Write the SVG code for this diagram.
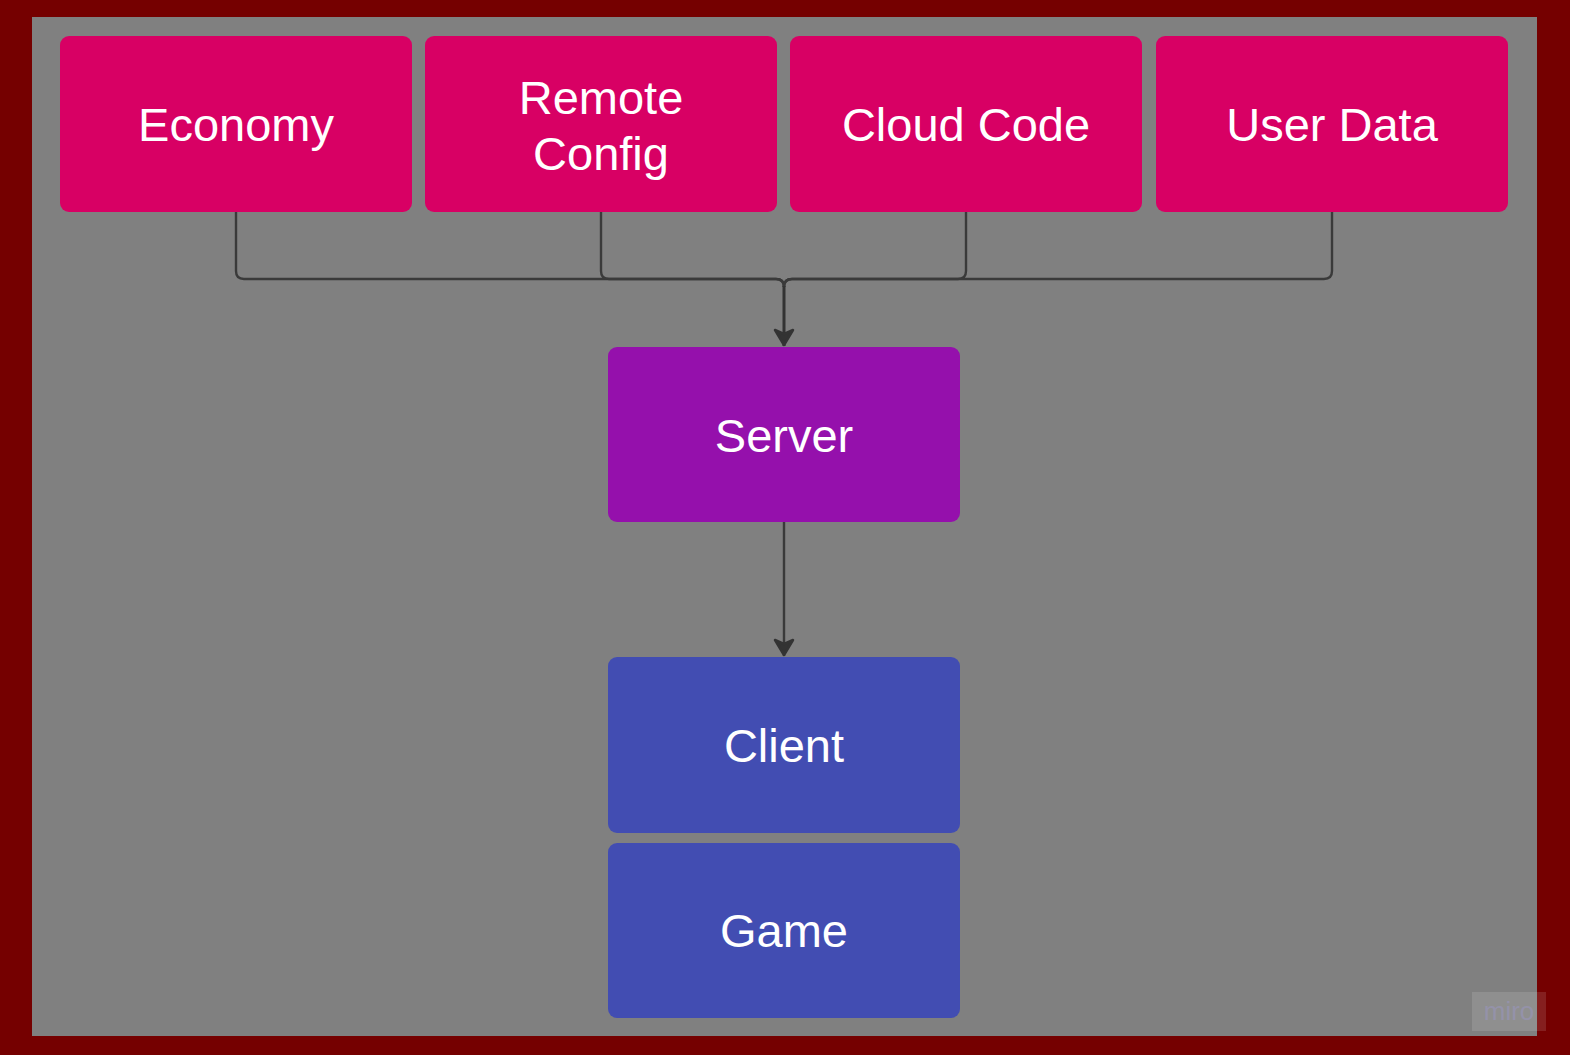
<svg xmlns="http://www.w3.org/2000/svg" width="1570" height="1055" viewBox="0 0 1570 1055">
  <style>
    .pink { fill: #D80064; }
    .purple { fill: #9510AC; }
    .blue { fill: #424DB2; }
    .lbl { font-family: "Liberation Sans", Arial, sans-serif; font-size: 47px; fill: #FFFFFF; text-anchor: middle; }
    .conn { fill: none; stroke: #3a3a3a; stroke-width: 2.4; }
    .trunk { fill: none; stroke: #333333; stroke-width: 3; }
  </style>
  <defs>
    <marker id="arrow" markerUnits="userSpaceOnUse" viewBox="-20 -12 22 24" refX="0" refY="0" markerWidth="22" markerHeight="24" orient="auto">
      <path d="M-1,0 L-16,-9 L-12,0 L-16,9 Z" fill="#333333" stroke="#333333" stroke-width="2.5" stroke-linejoin="round"/>
    </marker>
  </defs>
  <rect x="0" y="0" width="1570" height="1055" fill="#750000"/>
  <rect x="32" y="17" width="1505" height="1019" fill="#808080"/>

  <g id="connectors">
    <path class="conn" d="M236,212 V271 Q236,279 244,279 H776 Q784,279 784,287"/>
    <path class="conn" d="M601,212 V271 Q601,279 609,279 H776 Q784,279 784,287"/>
    <path class="conn" d="M966,212 V271 Q966,279 958,279 H792 Q784,279 784,287"/>
    <path class="conn" d="M1332,212 V271 Q1332,279 1324,279 H792 Q784,279 784,287"/>
    <path class="trunk" d="M784,286 V346" marker-end="url(#arrow)"/>
    <path class="conn" d="M784,522 V656" marker-end="url(#arrow)"/>
  </g>

  <g id="economy">
    <rect class="pink" x="60" y="36" width="352" height="176" rx="9"/>
    <text class="lbl" x="236" y="141">Economy</text>
  </g>
  <g id="remote-config">
    <rect class="pink" x="425" y="36" width="352" height="176" rx="9"/>
    <text class="lbl" x="601" y="114">Remote</text>
    <text class="lbl" x="601" y="170">Config</text>
  </g>
  <g id="cloud-code">
    <rect class="pink" x="790" y="36" width="352" height="176" rx="9"/>
    <text class="lbl" x="966" y="141">Cloud Code</text>
  </g>
  <g id="user-data">
    <rect class="pink" x="1156" y="36" width="352" height="176" rx="9"/>
    <text class="lbl" x="1332" y="141">User Data</text>
  </g>
  <g id="server">
    <rect class="purple" x="608" y="347" width="352" height="175" rx="9"/>
    <text class="lbl" x="784" y="452">Server</text>
  </g>
  <g id="client">
    <rect class="blue" x="608" y="657" width="352" height="176" rx="9"/>
    <text class="lbl" x="784" y="762">Client</text>
  </g>
  <g id="game">
    <rect class="blue" x="608" y="843" width="352" height="175" rx="9"/>
    <text class="lbl" x="784" y="947">Game</text>
  </g>

  <g id="watermark">
    <rect x="1472" y="992" width="74" height="39" fill="#ffffff" fill-opacity="0.12"/>
    <text x="1509" y="1020" font-family="Liberation Sans, Arial, sans-serif" font-size="26" fill="#9a96c0" fill-opacity="0.55" text-anchor="middle">miro</text>
  </g>
</svg>
